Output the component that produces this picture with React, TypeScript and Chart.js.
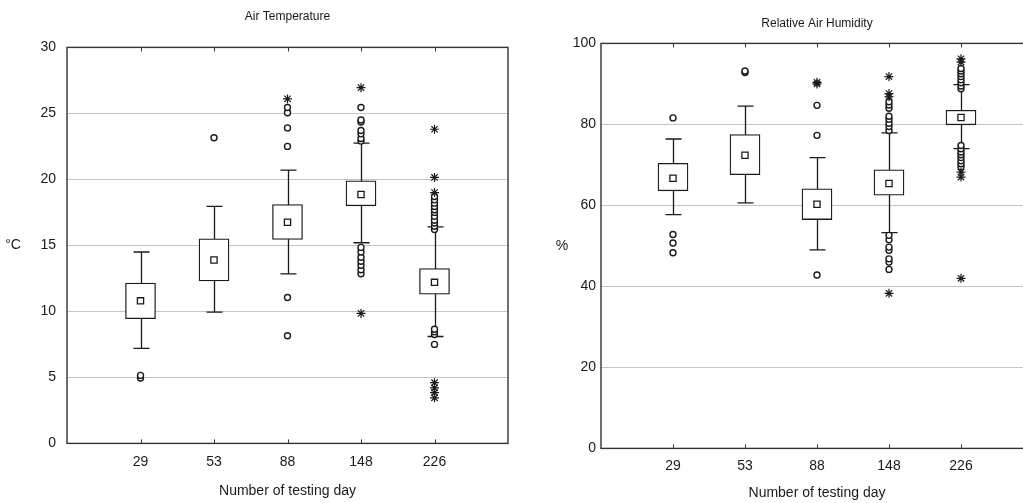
import React, { useEffect, useRef } from 'react';
import { Chart, registerables } from 'chart.js';
Chart.register(...registerables);

const days = ['29', '53', '88', '148', '226'];

// Air temperature (°C)
const tMin = [7.2, 9.95, 12.85, 15.2, 8.1];
const tQ1 = [9.45, 12.3, 15.45, 18.0, 11.3];
const tQ3 = [12.15, 15.5, 18.1, 19.9, 13.25];
const tMax = [14.5, 17.95, 20.7, 22.75, 16.4];
const tMean = [10.8, 13.9, 16.75, 18.85, 12.2];
const tCircles = [
  [4.95, 5.15],
  [23.15],
  [8.15, 11.05, 22.5, 23.9, 25.05, 25.45],
  [12.85, 13.15, 13.5, 13.8, 14.1, 14.5, 14.85, 22.9, 23.1, 23.45, 23.7, 24.35, 24.5, 25.45],
  [7.5, 8.25, 8.45, 8.65, 16.2, 16.45, 16.7, 16.9, 17.2, 17.5, 17.7, 17.95, 18.2, 18.45, 18.7],
];
const tStars = [
  [],
  [],
  [26.1],
  [9.85, 26.95],
  [3.45, 3.85, 4.2, 4.6, 19.0, 20.15, 23.8],
];
const tTicks = [0, 5, 10, 15, 20, 25, 30];

// Relative air humidity (%)
const hMin = [57.7, 60.6, 49.0, 53.3, 74.0];
const hQ1 = [63.6, 67.6, 56.5, 62.5, 79.9];
const hQ3 = [70.4, 77.5, 64.1, 68.8, 83.5];
const hMax = [76.4, 84.5, 71.8, 77.9, 89.8];
const hMean = [66.7, 72.4, 60.3, 65.4, 81.7];
const hCircles = [
  [48.3, 50.7, 52.8, 81.6],
  [92.8, 93.2],
  [42.8, 77.3, 84.7],
  [44.2, 46.0, 46.8, 48.9, 49.7, 51.5, 52.6, 78.5, 79.5, 80.3, 81.3, 82.0, 84.0, 84.8, 85.6],
  [69.5, 70.3, 71.0, 71.8, 72.5, 73.2, 74.0, 74.8, 88.8, 89.5, 90.3, 91.0, 91.8, 92.5, 93.2, 93.8],
];
const hStars = [
  [],
  [],
  [90.0, 90.4],
  [38.3, 86.8, 87.6, 91.8],
  [42.0, 67.0, 68.2, 95.4, 96.2],
];
const hTicks = [0, 20, 40, 60, 80, 100];

const INK = '#1a1a1a';
const FONT = "'Liberation Sans', Arial, sans-serif";

const whiskerPlugin = {
  id: 'whiskers',
  beforeDatasetsDraw(chart: any, _args: any, opts: any) {
    const { ctx } = chart;
    const xs = chart.scales.x;
    const ys = chart.scales.y;
    ctx.save();
    ctx.strokeStyle = INK;
    ctx.lineWidth = 1.3;
    (opts.min || []).forEach((lo: number, i: number) => {
      const hi = opts.max[i];
      const x = Math.round(xs.getPixelForValue(i + 1)) + 0.5;
      const yl = ys.getPixelForValue(lo);
      const yh = ys.getPixelForValue(hi);
      ctx.beginPath();
      ctx.moveTo(x, yl);
      ctx.lineTo(x, yh);
      ctx.moveTo(x - 8, yl);
      ctx.lineTo(x + 8, yl);
      ctx.moveTo(x - 8, yh);
      ctx.lineTo(x + 8, yh);
      ctx.stroke();
    });
    ctx.restore();
  },
};

const framePlugin = {
  id: 'frame',
  afterDatasetsDraw(chart: any, _args: any, opts: any) {
    const { ctx, chartArea: a } = chart;
    const xs = chart.scales.x;
    ctx.save();
    ctx.strokeStyle = '#333';
    ctx.lineWidth = 1.4;
    ctx.strokeRect(a.left, a.top, a.right - a.left, a.bottom - a.top);
    ctx.lineWidth = 1;
    for (let i = 1; i <= days.length; i++) {
      const x = Math.round(xs.getPixelForValue(i)) + 0.5;
      ctx.beginPath();
      ctx.moveTo(x, a.top);
      ctx.lineTo(x, a.top + 4);
      ctx.moveTo(x, a.bottom);
      ctx.lineTo(x, a.bottom - 4);
      ctx.stroke();
    }
    if (opts.unit) {
      ctx.fillStyle = INK;
      ctx.font = `14px ${FONT}`;
      ctx.textAlign = 'center';
      ctx.textBaseline = 'middle';
      ctx.fillText(opts.unit, opts.unitX, (a.top + a.bottom) / 2);
    }
    ctx.restore();
  },
};

function makeConfig(p: any) {
  const boxData = days.map((_, i) => ({ x: i + 1, y: [p.q1[i], p.q3[i]] }));
  const meanData = days.map((_, i) => ({ x: i + 1, y: p.mean[i] }));
  const circleData: any[] = [];
  p.circles.forEach((arr: number[], i: number) => arr.forEach((v) => circleData.push({ x: i + 1, y: v })));
  const starData: any[] = [];
  p.stars.forEach((arr: number[], i: number) => arr.forEach((v) => starData.push({ x: i + 1, y: v })));
  return {
    type: 'bar',
    data: {
      datasets: [
        {
          type: 'bar',
          data: boxData,
          backgroundColor: '#ffffff',
          borderColor: INK,
          borderWidth: 1.3,
          borderSkipped: false,
          barThickness: 30,
          order: 3,
        },
        {
          type: 'scatter',
          data: meanData,
          pointStyle: 'rect',
          pointRadius: 4.4,
          backgroundColor: '#ffffff',
          borderColor: INK,
          borderWidth: 1.3,
          order: 2,
        },
        {
          type: 'scatter',
          data: circleData,
          pointStyle: 'circle',
          pointRadius: 3,
          backgroundColor: '#ffffff',
          borderColor: INK,
          borderWidth: 1.4,
          order: 1,
        },
        {
          type: 'scatter',
          data: starData,
          pointStyle: 'star',
          pointRadius: 4.5,
          backgroundColor: INK,
          borderColor: INK,
          borderWidth: 1.2,
          order: 0,
        },
      ],
    },
    options: {
      animation: false,
      responsive: false,
      events: [],
      layout: { padding: { left: 0, right: p.padRight, top: 0, bottom: p.padBottom } },
      plugins: {
        legend: { display: false },
        tooltip: { enabled: false },
        title: {
          display: true,
          text: p.title,
          fullSize: false,
          color: INK,
          font: { family: FONT, size: 12, weight: 'normal' },
          padding: { top: p.titleTop, bottom: p.titleBottom },
        },
        whiskers: { min: p.min, max: p.max },
        frame: { unit: p.unit, unitX: p.unitX },
      },
      scales: {
        x: {
          type: 'linear',
          min: 0,
          max: 6,
          offset: false,
          grid: { display: false, drawTicks: false },
          border: { display: false },
          afterBuildTicks: (s: any) => {
            s.ticks = days.map((_, i) => ({ value: i + 1 }));
          },
          ticks: {
            padding: p.xTickPad,
            color: INK,
            font: { family: FONT, size: 14 },
            maxRotation: 0,
            autoSkip: false,
            callback: (v: number) => days[v - 1] ?? '',
          },
          title: {
            display: true,
            text: 'Number of testing day',
            color: INK,
            font: { family: FONT, size: 14 },
            padding: { top: p.xTitlePad, bottom: 0 },
          },
        },
        y: {
          min: p.ticks[0],
          max: p.ticks[p.ticks.length - 1],
          afterBuildTicks: (s: any) => {
            s.ticks = p.ticks.map((v: number) => ({ value: v }));
          },
          afterFit: (s: any) => {
            s.width = p.axisWidth;
          },
          grid: { color: '#c4c4c4', lineWidth: 1, drawTicks: false },
          border: { display: false },
          ticks: {
            padding: p.tickPad,
            color: INK,
            font: { family: FONT, size: 14 },
          },
        },
      },
    },
    plugins: [whiskerPlugin, framePlugin],
  };
}

function BoxChart(props: any) {
  const ref = useRef<HTMLCanvasElement>(null);
  useEffect(() => {
    const chart = new Chart(ref.current as any, makeConfig(props.cfg) as any);
    return () => chart.destroy();
  }, []);
  return <canvas ref={ref} width={props.width} height={503} style={{ display: 'block' }} />;
}

const leftCfg = {
  title: 'Air Temperature',
  q1: tQ1, q3: tQ3, min: tMin, max: tMax, mean: tMean,
  circles: tCircles, stars: tStars, ticks: tTicks,
  unit: '°C', unitX: 13, axisWidth: 67, tickPad: 11,
  titleTop: 9, titleBottom: 24, padRight: 12, padBottom: 3,
  xTickPad: 10, xTitlePad: 3,
};

const rightCfg = {
  title: 'Relative Air Humidity',
  q1: hQ1, q3: hQ3, min: hMin, max: hMax, mean: hMean,
  circles: hCircles, stars: hStars, ticks: hTicks,
  unit: '%', unitX: 42, axisWidth: 81, tickPad: 5,
  titleTop: 16, titleBottom: 13, padRight: 17, padBottom: 1,
  xTickPad: 9, xTitlePad: 2,
};

export default function App() {
  return (
    <div style={{ position: 'absolute', left: 0, top: 0, width: 1023, height: 503, overflow: 'hidden', background: '#fff' }}>
      <div style={{ position: 'absolute', left: 0, top: 0 }}>
        <BoxChart cfg={leftCfg} width={520} />
      </div>
      <div style={{ position: 'absolute', left: 520, top: 0 }}>
        <BoxChart cfg={rightCfg} width={530} />
      </div>
    </div>
  );
}
